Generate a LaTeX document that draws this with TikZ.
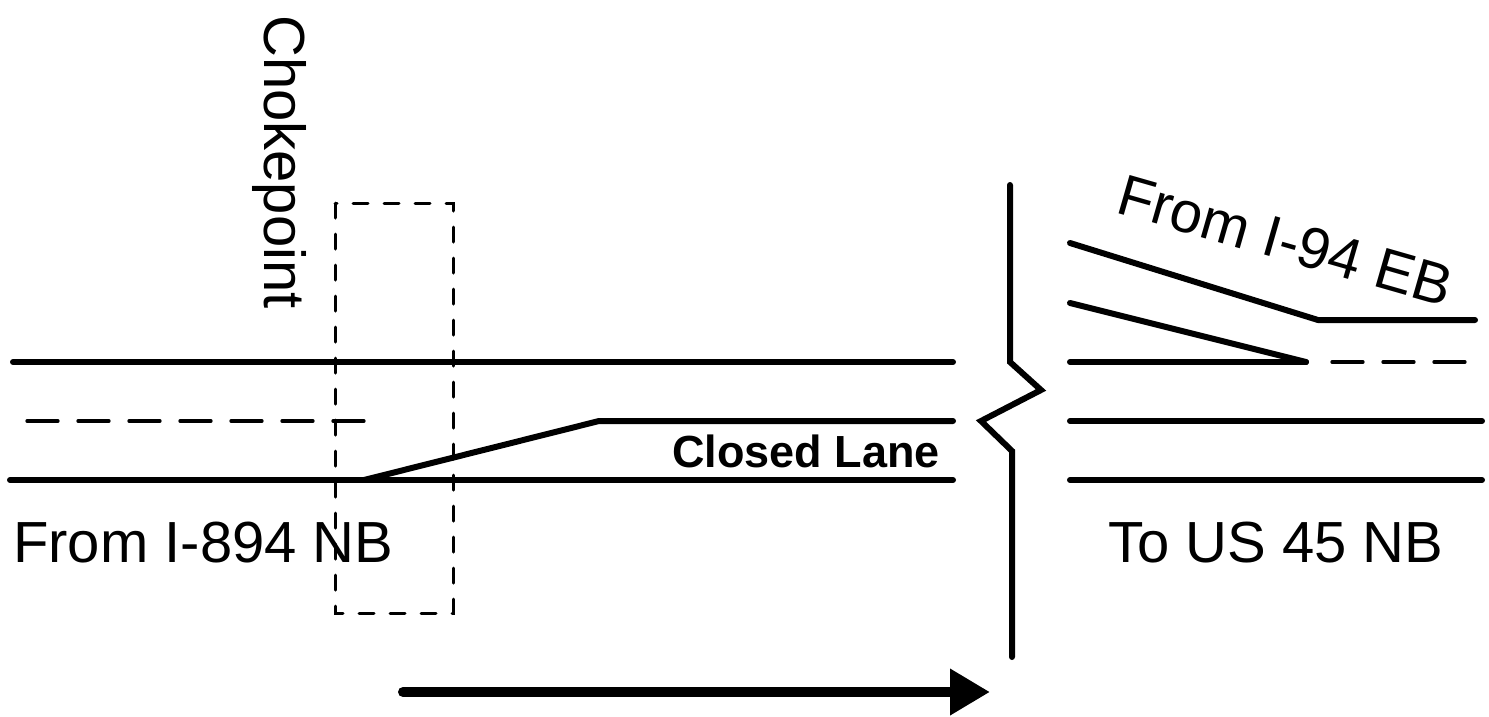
\documentclass[tikz,border=0pt]{standalone}
\usepackage{fontspec}
\setmainfont{Liberation Sans}
\usetikzlibrary{arrows.meta}
\begin{document}
\begin{tikzpicture}[x=1pt,y=-1pt,
  road/.style={line width=6pt,line cap=round,line join=round},
  lanedash/.style={line width=3.3pt,line cap=round,dash pattern=on 31pt off 20pt},
  boxdash/.style={line width=3pt,line cap=round,dash pattern=on 15pt off 16pt},
  brk/.style={line width=6pt,line cap=round,line join=miter},
  lbl/.style={inner sep=0pt,font=\fontsize{58}{60}\selectfont},
  bold lbl/.style={inner sep=0pt,font=\fontsize{45}{48}\selectfont\bfseries}]
\useasboundingbox (0,0) rectangle (1489,716);
% left section
\coordinate (LT1) at (13,362);  \coordinate (LT2) at (953,362);
\coordinate (LD1) at (27,421);  \coordinate (LD2) at (366,421);
\coordinate (LB1) at (10,480);  \coordinate (LB2) at (953,480);
\coordinate (TP1) at (364,480); \coordinate (TP2) at (599,421); \coordinate (TP3) at (953,421);
\draw[road] (LT1) -- (LT2);
\draw[road] (LB1) -- (LB2);
\draw[road] (TP1) -- (TP2) -- (TP3);
\draw[lanedash] (LD1) -- (LD2);
% chokepoint box
\coordinate (BX1) at (335,203); \coordinate (BX2) at (453,613);
\draw[boxdash] (BX1) rectangle (BX2);
% break line
\coordinate (K0) at (1010,185); \coordinate (K1) at (1010,362);
\coordinate (K2) at (1041,390); \coordinate (K3) at (981,421);
\coordinate (K4) at (1012,451); \coordinate (K5) at (1012,657);
\draw[brk] (K0) -- (K1) -- (K2) -- (K3) -- (K4) -- (K5);
% right section
\coordinate (RU1) at (1070,243); \coordinate (RU2) at (1318,320); \coordinate (RU3) at (1475,320);
\coordinate (RL1) at (1070,303); \coordinate (RL2) at (1306,362);
\coordinate (RS1) at (1070,362);
\coordinate (RD1) at (1332,362); \coordinate (RD2) at (1466,362);
\coordinate (RM1) at (1070,421); \coordinate (RM2) at (1482,421);
\coordinate (RB1) at (1070,480); \coordinate (RB2) at (1482,480);
\draw[road] (RU1) -- (RU2) -- (RU3);
\draw[road] (RL1) -- (RL2);
\draw[road] (RS1) -- (RL2);
\draw[lanedash] (RD1) -- (RD2);
\draw[road] (RM1) -- (RM2);
\draw[road] (RB1) -- (RB2);
% direction arrow
\coordinate (A1) at (403,692); \coordinate (A2) at (990,692);
\draw[line width=10pt,line cap=round,-{Triangle[length=40pt,width=44pt]}] (A1) -- (A2);
% labels
\node[lbl,anchor=base west] (t894) at (13,562) {From I-894 NB};
\node[lbl,anchor=base west] (tus45) at (1108,562) {To US 45 NB};
\node[bold lbl,anchor=base east] (tclosed) at (940,467) {Closed Lane};
\node[lbl,anchor=base west,rotate=-90] (tchoke) at (264,15) {Chokepoint};
\node[lbl,anchor=base west,rotate=-16] (t94) at (1114,212) {From I-94 EB};
\end{tikzpicture}
\end{document}
